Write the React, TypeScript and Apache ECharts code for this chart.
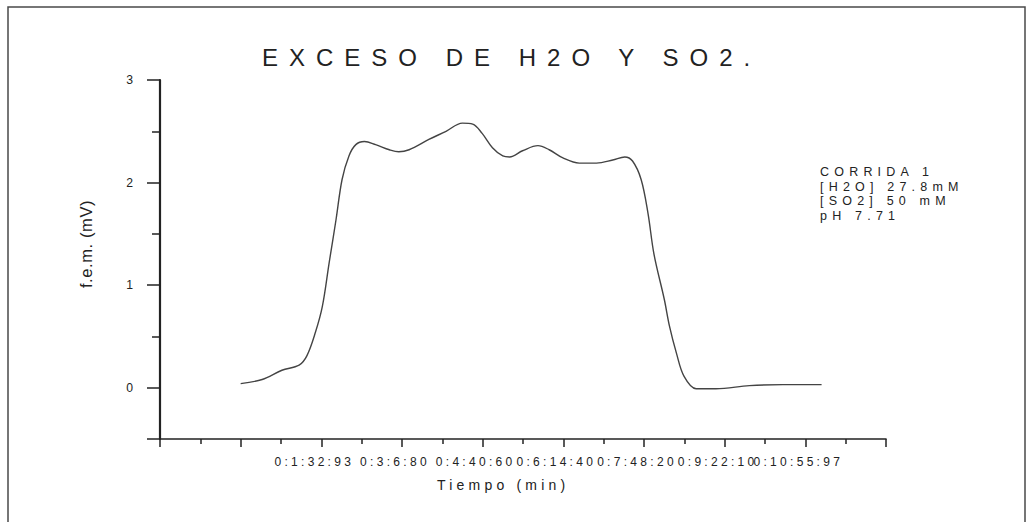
import React, { useEffect, useRef } from "react";
import * as echarts from "echarts";

// ---- data ----
const TITLE = "EXCESO DE H2O Y SO2.";
const X_NAME = "Tiempo (min)";
const Y_NAME = "f.e.m. (mV)";
const LEGEND_LINES = ["CORRIDA 1", "[H2O] 27.8mM", "[SO2] 50 mM", "pH 7.71"];
const X_STEP = 93.87; // seconds per major division
const X_TICK_LABELS = ["", "", "0:1:32:93", "0:3:6:80", "0:4:40:60", "0:6:14:40", "0:7:48:20", "0:9:22:10", "0:10:55:97", ""];
const Y_LABELS = [0, 1, 2, 3];
const Y_MAJOR_TICKS = [-0.5, 0, 1, 2, 3];
const Y_MINOR_TICKS = [0.5, 1.5, 2.5];
const TIME_S = [0, 25, 48, 68, 77, 87, 95, 103, 111, 118, 126, 134, 144, 157, 173, 184, 196, 219, 239, 258, 270, 281, 293, 305, 313, 328, 346, 359, 375, 394, 414, 433, 447, 456, 466, 474, 481, 493, 499, 507, 516, 530, 553, 592, 631, 676];
const FEM_MV = [0.04, 0.08, 0.17, 0.22, 0.31, 0.54, 0.79, 1.22, 1.64, 2.03, 2.26, 2.37, 2.40, 2.37, 2.32, 2.30, 2.32, 2.42, 2.50, 2.58, 2.57, 2.48, 2.34, 2.26, 2.25, 2.31, 2.36, 2.32, 2.24, 2.19, 2.19, 2.22, 2.25, 2.21, 2.03, 1.70, 1.30, 0.86, 0.60, 0.34, 0.11, -0.01, -0.01, 0.02, 0.03, 0.03];

const FONT = "Arial, 'Liberation Sans', sans-serif";
const INK = "#222222";

export default function App() {
  const ref = useRef<HTMLDivElement>(null);
  useEffect(() => {
    if (!ref.current) return;
    const chart = echarts.init(ref.current, null, { renderer: "svg" });
    const data = TIME_S.map((t, i) => [t, FEM_MV[i]]);
    chart.setOption({
      animation: false,
      backgroundColor: "#ffffff",
      textStyle: { fontFamily: FONT },
      title: {
        text: TITLE,
        left: 262,
        top: 45,
        padding: 0,
        textStyle: { fontSize: 24, fontWeight: "normal", color: INK, fontFamily: FONT },
      },
      grid: { left: 160, right: 142, top: 80, bottom: 83 },
      xAxis: {
        type: "value",
        min: -X_STEP,
        max: 8 * X_STEP,
        interval: X_STEP,
        axisLine: { show: true, onZero: false, lineStyle: { color: INK, width: 1.6 } },
        axisTick: { show: true, length: 8, lineStyle: { color: INK, width: 1.5 } },
        minorTick: { show: true, splitNumber: 2, length: 5, lineStyle: { color: INK, width: 1.5 } },
        splitLine: { show: false },
        minorSplitLine: { show: false },
        axisLabel: {
          margin: 17,
          fontSize: 12,
          color: INK,
          fontFamily: FONT,
          padding: [0, 14, 0, 0],
          formatter: (v: number) => {
            const idx = Math.round(v / X_STEP) + 1;
            return X_TICK_LABELS[idx] ?? "";
          },
        },
      },
      yAxis: [
        {
          type: "value",
          position: "left",
          min: -0.5,
          max: 3,
          axisLine: { show: true, onZero: false, lineStyle: { color: INK, width: 2.2 } },
          axisTick: { show: true, length: 13, customValues: Y_MAJOR_TICKS, lineStyle: { color: INK, width: 1.5 } },
          splitLine: { show: false },
          axisLabel: {
            customValues: Y_LABELS,
            margin: 27,
            fontSize: 12.2,
            color: INK,
            fontFamily: FONT,
          },
        },
        {
          type: "value",
          position: "left",
          offset: 0,
          min: -0.5,
          max: 3,
          axisLine: { show: false, onZero: false },
          axisTick: { show: true, length: 8, customValues: Y_MINOR_TICKS, lineStyle: { color: INK, width: 1.5 } },
          splitLine: { show: false },
          axisLabel: { show: false },
        },
      ],
      series: [
        {
          type: "line",
          data,
          showSymbol: false,
          smooth: 0.35,
          lineStyle: { color: "#444444", width: 1.4 },
        },
      ],
      graphic: [
        {
          type: "rect",
          shape: { x: 8, y: 7, width: 1017, height: 540 },
          style: { fill: "none", stroke: "#4a4a4a", lineWidth: 1.5 },
          silent: true,
        },
        {
          type: "text",
          x: 437,
          y: 485,
          style: { text: X_NAME, fontSize: 14, fill: INK, fontFamily: FONT, textAlign: "left", textVerticalAlign: "middle" },
        },
        {
          type: "text",
          x: 86,
          y: 244,
          rotation: Math.PI / 2,
          style: { text: Y_NAME, fontSize: 16.5, fill: INK, fontFamily: FONT, textAlign: "center", textVerticalAlign: "middle" },
        },
        ...LEGEND_LINES.map((line, i) => ({
          type: "text",
          x: 820,
          y: 172 + i * 14.5,
          style: { text: line, fontSize: 12.5, fill: INK, fontFamily: FONT, textAlign: "left", textVerticalAlign: "middle" },
        })),
      ],
    });
    return () => chart.dispose();
  }, []);
  return (
    <>
      <style>{`
        #chartbox text[style*="24px"] { letter-spacing: 11px; }
        #chartbox text[style*="12.5px"] { letter-spacing: 5.2px; }
        #chartbox text[style*="12px"] { letter-spacing: 3.3px; }
        #chartbox text[style*="14px"] { letter-spacing: 4.2px; }
        #chartbox text[style*="16.5px"] { letter-spacing: 0.6px; }
      `}</style>
      <div
        id="chartbox"
        ref={ref}
        style={{ position: "absolute", left: 0, top: 0, width: 1028, height: 522, background: "#fff" }}
      />
    </>
  );
}
